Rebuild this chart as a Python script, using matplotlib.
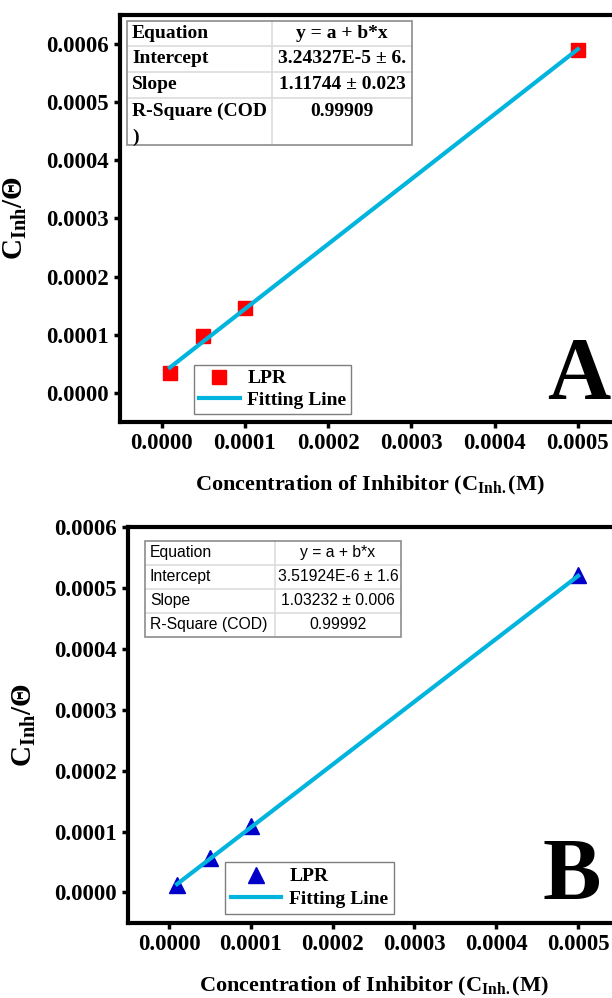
import matplotlib
matplotlib.use("Agg")
import matplotlib.pyplot as plt
import numpy as np

plt.rcParams["font.family"] = ["Liberation Serif", "DejaVu Serif"]
plt.rcParams["mathtext.fontset"] = "custom"
plt.rcParams["mathtext.rm"] = "Liberation Serif"
plt.rcParams["mathtext.bf"] = "Liberation Serif:bold"
plt.rcParams["mathtext.it"] = "Liberation Serif:italic"

# Measured data: inhibitor concentration vs C/theta
conc = [0.00001, 0.00005, 0.0001, 0.0005]
lpr_a = [0.0000340, 0.0000972, 0.0001452, 0.000590]
lpr_b = [0.0000125, 0.0000560, 0.0001090, 0.000521]

# Linear fit parameters (y = a + b*x)
fit_a = (3.24327e-5, 1.11744)
fit_b = (3.51924e-6, 1.03232)

table_a = [["Equation", "y = a + b*x"],
           ["Intercept", "3.24327E-5 \u00b1 6."],
           ["Slope", "1.11744 \u00b1 0.023"],
           ["R-Square (COD\n)", "0.99909"]]
table_b = [["Equation", "y = a + b*x"],
           ["Intercept", "3.51924E-6 \u00b1 1.6"],
           ["Slope", "1.03232 \u00b1 0.006"],
           ["R-Square (COD)", "0.99992"]]

xticks = [0.0, 0.0001, 0.0002, 0.0003, 0.0004, 0.0005]
yticks = [0.0, 0.0001, 0.0002, 0.0003, 0.0004, 0.0005, 0.0006]

fig = plt.figure(figsize=(6.12, 9.98), dpi=100)
ax1 = fig.add_axes([0.196, 0.5772, 0.8163, 0.4078])
ax2 = fig.add_axes([0.2092, 0.0752, 0.8023, 0.3968])

LINE_C = "#00B4DE"


def style_axes(ax, ylim):
    ax.set_xlim(-0.00005, 0.00055)
    ax.set_ylim(*ylim)
    ax.set_xticks(xticks)
    ax.set_yticks(yticks)
    ax.set_xticklabels([f"{v:.4f}" for v in xticks])
    ax.set_yticklabels([f"{v:.4f}" for v in yticks])
    for s in ax.spines.values():
        s.set_linewidth(3.0)
    ax.tick_params(direction="out", length=4, width=2.5, labelsize=16.5,
                   pad=4, top=False, right=False)
    for lab in ax.get_xticklabels() + ax.get_yticklabels():
        lab.set_fontweight("bold")
    ax.set_xlabel(r"Concentration of Inhibitor (C$_{\mathbf{Inh.}}$(M)",
                  fontsize=16, fontweight="bold", labelpad=14)
    ax.set_ylabel(r"$\mathbf{C_{Inh}/\Theta}$", fontsize=21, labelpad=12)


def draw_table(ax, rows, x0, x1, xd, ys, bold, size, family):
    # outer frame and grid lines
    lc = "#dcdcdc"
    for y in ys[1:-1]:
        ax.plot([x0, x1], [y, y], transform=ax.transAxes, color=lc,
                lw=1.2, clip_on=False, zorder=5)
    ax.plot([xd, xd], [ys[0], ys[-1]], transform=ax.transAxes, color=lc,
            lw=1.2, clip_on=False, zorder=5)
    ax.add_patch(plt.Rectangle((x0, ys[-1]), x1 - x0, ys[0] - ys[-1],
                               transform=ax.transAxes, fill=False,
                               edgecolor="#8c8c8c", lw=1.2, zorder=6))
    fw = "bold" if bold else "normal"
    for i, (k, v) in enumerate(rows):
        top, bot = ys[i], ys[i + 1]
        if "\n" in k:
            ym = top - (ys[1] - ys[2]) / 2
            ax.text(x0 + 0.01, ym, k.split("\n")[0], transform=ax.transAxes,
                    ha="left", va="center", fontsize=size, fontweight=fw,
                    family=family, zorder=7)
            ax.text(x0 + 0.01, ym - (ys[1] - ys[2]), k.split("\n")[1],
                    transform=ax.transAxes, ha="left", va="center",
                    fontsize=size, fontweight=fw, family=family, zorder=7)
            ax.text((xd + x1) / 2, ym, v, transform=ax.transAxes,
                    ha="center", va="center", fontsize=size, fontweight=fw,
                    family=family, zorder=7)
        else:
            ym = (top + bot) / 2
            ax.text(x0 + 0.01, ym, k, transform=ax.transAxes, ha="left",
                    va="center", fontsize=size, fontweight=fw, family=family,
                    zorder=7)
            ax.text((xd + x1) / 2, ym, v, transform=ax.transAxes,
                    ha="center", va="center", fontsize=size, fontweight=fw,
                    family=family, zorder=7)


# ---- Panel A ----
xs = np.array([conc[0], conc[-1]])
ax1.plot(conc, lpr_a, "s", color="#FF0000", ms=9.5, mec="#FF0000",
         label="LPR", zorder=3)
ax1.plot(xs, fit_a[0] + fit_a[1] * xs, "-", color=LINE_C, lw=3,
         label="Fitting Line", zorder=4)
style_axes(ax1, (-0.00005, 0.00065))
leg1 = ax1.legend(loc="upper left", bbox_to_anchor=(0.148, 0.140),
                  borderaxespad=0, fancybox=False, edgecolor="#7f7f7f",
                  framealpha=1, prop={"weight": "bold", "size": 14},
                  handlelength=2.1, handletextpad=0.4, borderpad=0.25,
                  labelspacing=0.2)
leg1.get_frame().set_linewidth(1.0)
ax1.text(0.855, 0.059, "A", transform=ax1.transAxes, fontsize=63,
         fontweight="bold", ha="left", va="baseline")
draw_table(ax1, table_a, 0.014, 0.5845, 0.304,
           [0.985, 0.924, 0.860, 0.796, 0.681], True, 14, "Liberation Serif")

# ---- Panel B ----
ax2.plot(conc, lpr_b, "^", color="#0000C8", ms=12, mec="#0000C8",
         label="LPR", zorder=3)
ax2.plot(xs, fit_b[0] + fit_b[1] * xs, "-", color=LINE_C, lw=3,
         label="Fitting Line", zorder=4)
style_axes(ax2, (-0.00005, 0.0006))
leg2 = ax2.legend(loc="upper left", bbox_to_anchor=(0.1976, 0.154),
                  borderaxespad=0, fancybox=False, edgecolor="#7f7f7f",
                  framealpha=1, prop={"weight": "bold", "size": 14},
                  handlelength=2.6, handletextpad=0.4, borderpad=0.3,
                  labelspacing=0.25)
leg2.get_frame().set_linewidth(1.0)
ax2.text(0.845, 0.0606, "B", transform=ax2.transAxes, fontsize=63,
         fontweight="bold", ha="left", va="baseline")
draw_table(ax2, table_b, 0.0346, 0.556, 0.299,
           [0.9646, 0.904, 0.8434, 0.7828, 0.7222], False, 11.3,
           "Liberation Sans")

fig.savefig("out.png", dpi=100)
